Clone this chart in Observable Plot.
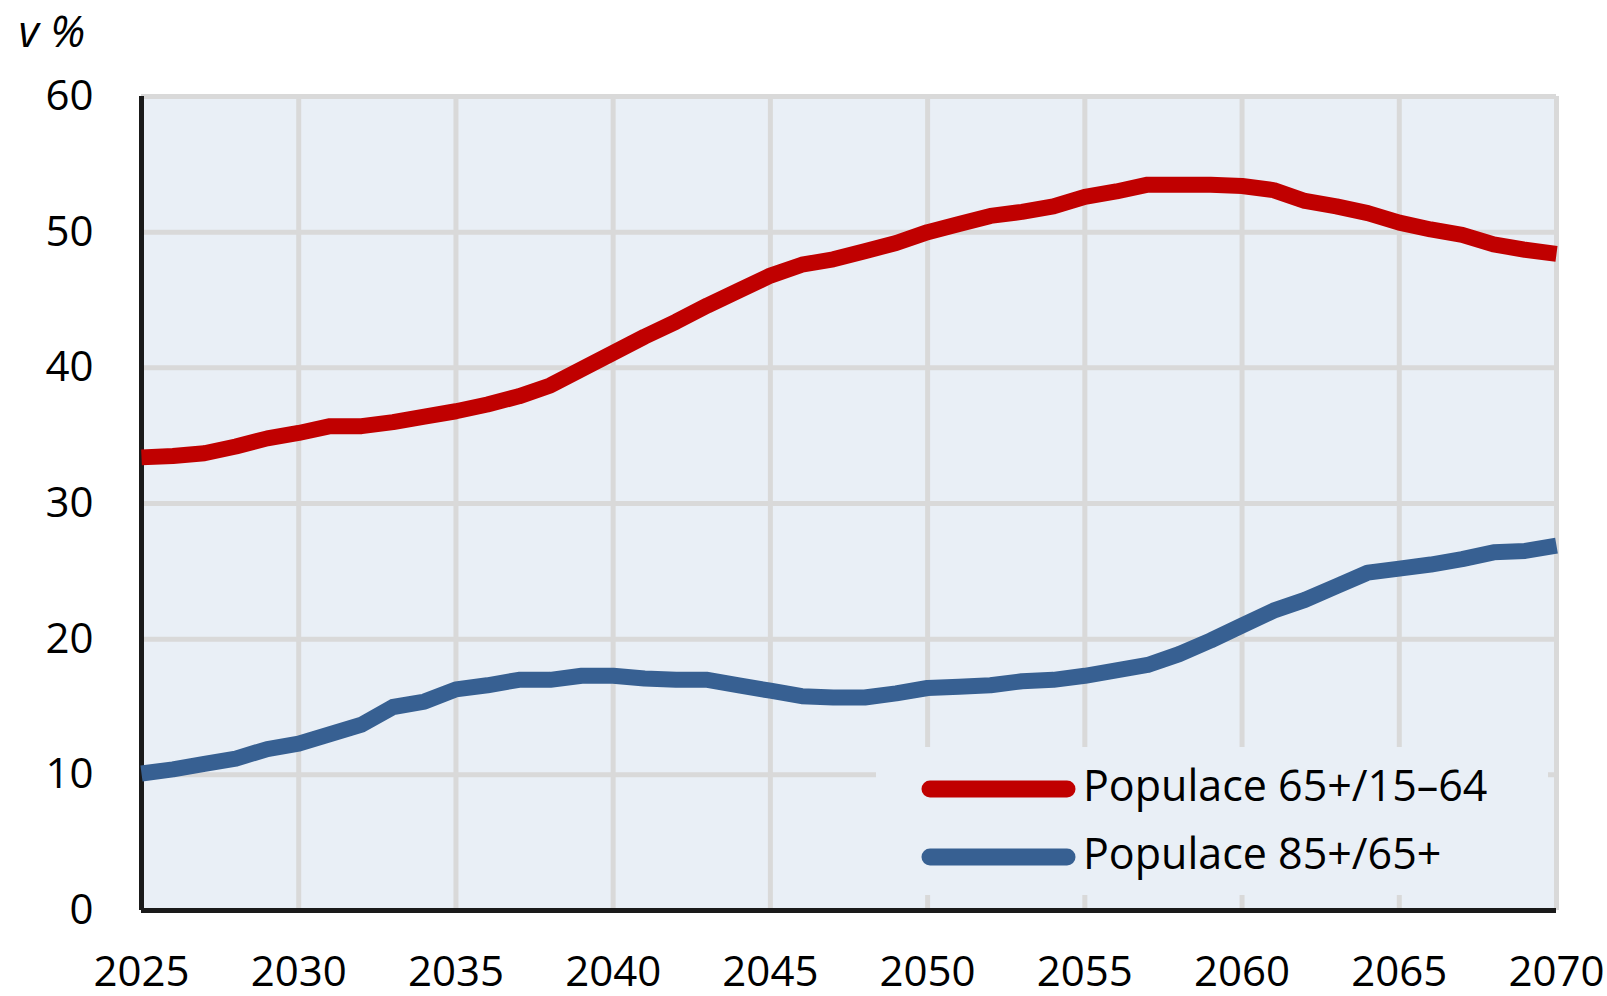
<!DOCTYPE html>
<html>
<head>
<meta charset="utf-8">
<script src="https://cdn.jsdelivr.net/npm/d3@7"></script>
<script src="https://cdn.jsdelivr.net/npm/@observablehq/plot@0.6"></script>
<style>
  html, body { margin: 0; padding: 0; background: #fff; overflow: hidden; }
  #chart svg { display: block; }
</style>
</head>
<body>
<div id="chart"></div>
<script>
// ---- data ----
const years = [2025,2026,2027,2028,2029,2030,2031,2032,2033,2034,2035,2036,2037,2038,2039,2040,
  2041,2042,2043,2044,2045,2046,2047,2048,2049,2050,2051,2052,2053,2054,2055,2056,2057,2058,2059,2060,
  2061,2062,2063,2064,2065,2066,2067,2068,2069,2070];
const ratio65_1564 = [33.4,33.5,33.7,34.2,34.8,35.2,35.7,35.7,36.0,36.4,36.8,37.3,37.9,38.7,39.9,41.1,
  42.3,43.4,44.6,45.7,46.8,47.6,48.0,48.6,49.2,50.0,50.6,51.2,51.5,51.9,52.6,53.0,53.5,53.5,53.5,53.4,
  53.1,52.3,51.9,51.4,50.7,50.2,49.8,49.1,48.7,48.4];
const ratio85_65 = [10.1,10.4,10.8,11.2,11.9,12.3,13.0,13.7,15.0,15.4,16.3,16.6,17.0,17.0,17.3,17.3,
  17.1,17.0,17.0,16.6,16.2,15.8,15.7,15.7,16.0,16.4,16.5,16.6,16.9,17.0,17.3,17.7,18.1,18.9,19.9,21.0,
  22.1,22.9,23.9,24.9,25.2,25.5,25.9,26.4,26.5,26.9];
const seriesNames = ["Populace 65+/15\u201364", "Populace 85+/65+"];
const seriesColors = ["#C00000", "#376092"];
const xTicks = [2025,2030,2035,2040,2045,2050,2055,2060,2065,2070];
const yTicks = [0,10,20,30,40,50,60];
const unitLabel = "v %";

// ---- table ----
const rows = [];
years.forEach((yr, i) => {
  rows.push({year: yr, value: ratio65_1564[i], series: seriesNames[0]});
  rows.push({year: yr, value: ratio85_65[i], series: seriesNames[1]});
});

const bg = "#E9EFF6";
const gridColor = "#D9D9D9";
const font = "'Open Sans', 'Noto Sans', sans-serif";

const chart = Plot.plot({
  width: 1607,
  height: 996,
  marginLeft: 141,
  marginRight: 51,
  marginTop: 96,
  marginBottom: 86,
  style: {fontFamily: font, fontSize: "42px", color: "#000", background: "#fff", overflow: "visible"},
  x: {domain: [2025, 2070], ticks: xTicks, tickFormat: d => String(d), tickSize: 0, tickPadding: 46, label: null},
  y: {domain: [0, 60], ticks: yTicks, tickFormat: d => String(d), tickSize: 0, tickPadding: 48, label: null},
  color: {domain: seriesNames, range: seriesColors},
  marks: [
    Plot.frame({fill: bg, stroke: null}),
    Plot.gridX(xTicks, {stroke: gridColor, strokeWidth: 5, strokeOpacity: 1}),
    Plot.gridY(yTicks, {stroke: gridColor, strokeWidth: 5, strokeOpacity: 1}),
    Plot.ruleX([2025], {stroke: "#1a1a1a", strokeWidth: 5}),
    Plot.ruleY([0], {stroke: "#1a1a1a", strokeWidth: 5}),
    Plot.line(rows, {x: "year", y: "value", z: "series", stroke: "series",
      strokeWidth: 16, strokeLinecap: "butt", strokeLinejoin: "round"}),
    Plot.text([unitLabel], {text: d => d, frameAnchor: "top-left", dx: -123, dy: -50,
      textAnchor: "start", lineAnchor: "bottom", fontStyle: "italic", fontSize: 44, fill: "#000"})
  ]
});

// ---- legend (inside plot area, lower right) ----
const svg = d3.select(chart);
const lg = svg.append("g")
  .attr("font-family", font).attr("font-size", 43).attr("text-anchor", "start");
lg.append("rect").attr("x", 876).attr("y", 747).attr("width", 672).attr("height", 148).attr("fill", bg);
seriesNames.forEach((name, i) => {
  const cy = 789 + i * 68;
  lg.append("line").attr("x1", 930).attr("x2", 1067).attr("y1", cy).attr("y2", cy)
    .attr("stroke", seriesColors[i]).attr("stroke-width", 17).attr("stroke-linecap", "round");
  lg.append("text").attr("x", 1083).attr("y", cy + 12).attr("fill", "#000")
    .attr("text-anchor", "start").text(name);
});

document.getElementById("chart").appendChild(chart);
</script>
</body>
</html>
